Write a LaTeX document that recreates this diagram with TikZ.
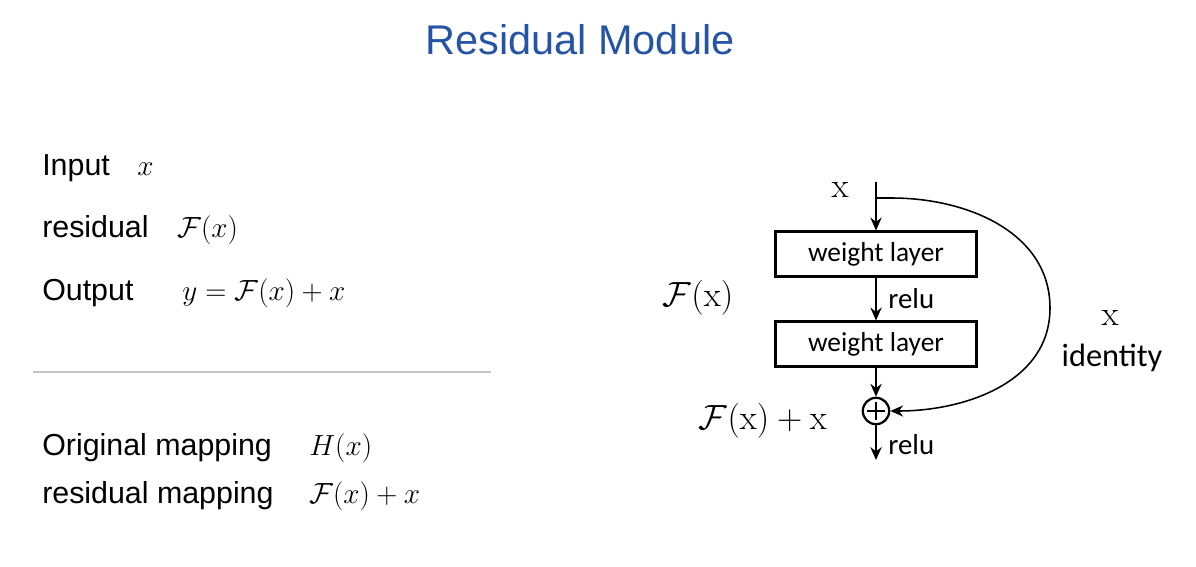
\documentclass[tikz,border=0pt]{standalone}
\usepackage{amsmath,amssymb}
\usepackage[no-math]{fontspec}
\setmainfont{Liberation Sans}
\newfontfamily\boxfont{Carlito}
\usepackage{xcolor}
\usetikzlibrary{arrows.meta,positioning}
\definecolor{titleblue}{RGB}{38,84,164}
\definecolor{rulegray}{RGB}{195,195,195}
\newcommand{\Fx}{\mathcal{F}(\mathrm{x})}

\begin{document}
\begin{tikzpicture}[x=0.025cm, y=-0.025cm,
  txt/.style={anchor=base west, inner sep=0pt, font=\fontsize{21.6}{24}\selectfont},
  lyr/.style={draw, line width=1.6pt, minimum width=5.02cm, minimum height=1.12cm, inner sep=0pt, font=\boxfont\fontsize{19.5}{22}\selectfont},
  arr/.style={-{Stealth[length=3.2mm, width=2.8mm]}, line width=1.6pt},
  lab/.style={font=\boxfont\fontsize{20.5}{24}\selectfont, inner sep=0pt},
  mth/.style={font=\fontsize{24}{28}\selectfont, inner sep=0pt},
]
\useasboundingbox (0,0) rectangle (1196,566);
\node[font=\fontsize{29.5}{34}\selectfont, text=titleblue, anchor=base, inner sep=0pt] (title) at (580,54) {Residual Module};
% left column
\node[txt] (inp) at (42,175) {Input};
\node[txt] (inpx) at (137,175) {$x$};
\node[txt] (res) at (42,237) {residual};
\node[txt] (resx) at (177,237) {$\mathcal{F}(x)$};
\node[txt] (outp) at (42,300) {Output};
\node[txt] (outpx) at (182,300) {$y=\mathcal{F}(x)+x$};
\draw[rulegray, line width=1pt] (33,372) -- (491,372);
\node[txt] (orig) at (42,455) {Original mapping};
\node[txt] (origx) at (309,455) {$H(x)$};
\node[txt] (resm) at (42,503) {residual mapping};
\node[txt] (resmx) at (309,503) {$\mathcal{F}(x)+x$};
% residual block
\coordinate (top) at (876,182);
\coordinate (split) at (876,198);
\node[lyr] (wl1) at (876,254) {weight layer};
\node[lyr] (wl2) at (876,344) {weight layer};
\node[draw, circle, line width=1.6pt, minimum size=0.66cm, inner sep=0pt,
  path picture={\draw[line width=1.6pt] ([xshift=-2.2mm]path picture bounding box.center) -- ([xshift=2.2mm]path picture bounding box.center)
    ([yshift=-2.2mm]path picture bounding box.center) -- ([yshift=2.2mm]path picture bounding box.center);}] (add) at (876,411) {};
\coordinate (out) at (876,460);
\node[mth] (xin) at (840,190) {$\mathrm{x}$};
\node[mth] (fx) at (698,298) {$\Fx$};
\node[mth] (fxx) at (763,421) {$\Fx+\mathrm{x}$};
\node[mth] (xid) at (1110,318) {$\mathrm{x}$};
\node[lab, font=\boxfont\fontsize{23}{26}\selectfont] (ident) at (1112,358) {identity};
\draw[arr] (top) -- (wl1);
\draw[arr] (wl1) -- node[lab, right=8pt]{relu} (wl2);
\draw[arr] (wl2) -- (add);
\draw[arr] (add) -- node[lab, right=8pt, pos=0.55]{relu} (out);
\draw[-{Stealth[length=3.2mm, width=2.8mm]}, line width=1.1pt] (split) -- (892,198)
  to[out=0, in=90] (1050,308) to[out=-90, in=0] (add);
\end{tikzpicture}
\end{document}
